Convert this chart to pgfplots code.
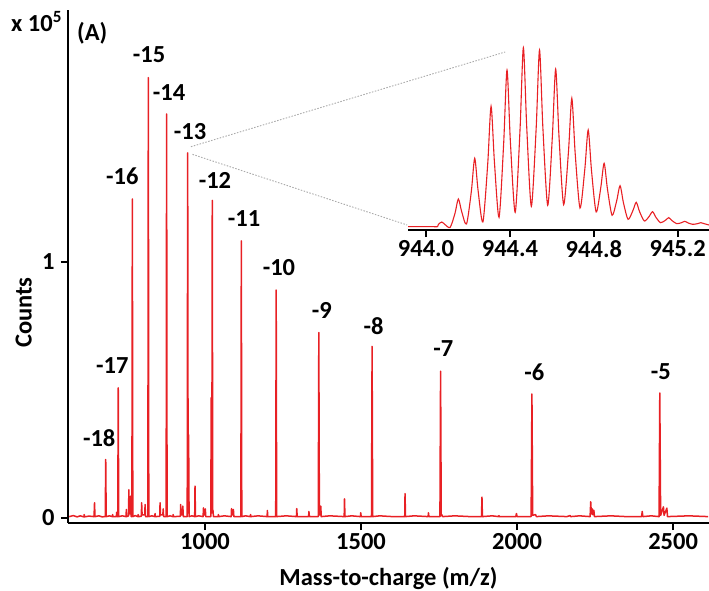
\documentclass[border=0pt]{standalone}
\usepackage{fontspec}
\setmainfont{Carlito}
\usepackage{pgfplots}
\pgfplotsset{compat=1.18}
\definecolor{specred}{RGB}{232,32,36}
\definecolor{zoomgray}{RGB}{170,170,170}

\begin{document}
\begin{tikzpicture}[font=\fontsize{24.5}{27}\selectfont\bfseries]
% main spectrum
\begin{axis}[
    name=main, at={(0,0)}, anchor=south west,
    scale only axis, width=641pt, height=513pt,
    xmin=561, xmax=2615, ymin=-0.02, ymax=1.984,
    axis x line=bottom, axis y line=left,
    axis line style={line width=1.7pt, -},
    xtick={1000,1500,2000,2500}, xticklabels={1000,1500,2000,2500},
    ytick={0,1}, yticklabels={0,1},
    tick align=outside, major tick length=7pt,
    tick style={line width=1.5pt, black},
    tick label style={font=\fontsize{24.5}{27}\selectfont\bfseries},
    yticklabel style={xshift=-3pt},
    xlabel={Mass-to-charge (m/z)},
    xlabel style={at={(axis description cs:0.5,0)}, anchor=base, yshift=-62pt},
    ylabel={Counts},
    ylabel style={at={(axis description cs:-0.069,0.41)}, anchor=center, rotate=0},
    label style={font=\fontsize{24.5}{27}\selectfont\bfseries},
    clip=false,
]
\addplot[specred, line width=1.5pt, line join=round] coordinates {
(565,0.005) (578,0.009) (590,0.004) (600,0.008) (612,0.004) (613,0.013) (614,0.004) (628,0.007)
(644.5,0.005) (646,0.059) (647.5,0.005) (660,0.008) (670,0.004)
(680.4,0.005) (681.9,0.228) (683.4,0.005) (694,0.008)
(703,0.005) (704,0.013) (705,0.005) (716,0.005) (717,0.022) (718,0.005)
(720.5,0.005) (722.0,0.508) (723.5,0.005) (735,0.008)
(747,0.005) (748,0.033) (749,0.005) (755,0.008) (756,0.11) (757.5,0.02) (761,0.015) (762,0.085) (763.5,0.005)
(765.7,0.005) (767.2,1.246) (768.7,0.005) (776,0.009)
(785,0.005) (786,0.013) (787,0.005) (796,0.006) (797,0.059) (798.5,0.012) (807,0.012) (808,0.052) (809.5,0.005)
(816.9,0.005) (818.4,1.72) (819.9,0.005) (830,0.008)
(839,0.005) (840,0.017) (841,0.005) (855,0.006) (856,0.059) (857.5,0.012) (865,0.012) (866,0.035) (867.5,0.005)
(875.5,0.005) (877.0,1.578) (878.5,0.005) (888,0.008)
(897,0.005) (898,0.013) (899,0.005) (921,0.006) (922,0.052) (923.5,0.012) (928,0.012) (929,0.046) (930.5,0.005)
(943,0.005) (944.5,1.426) (946,0.02) (947.5,0.325) (949,0.005) (958,0.008)
(967,0.005) (968,0.124) (969.5,0.005) (980,0.008)
(994,0.005) (995,0.039) (996.5,0.012) (1000,0.012) (1001,0.035) (1002.5,0.005)
(1018.5,0.005) (1020,0.47) (1021.8,0.02) (1023.3,1.24) (1024.8,0.02) (1025.5,0.03) (1027,0.005)
(1042,0.005) (1043,0.013) (1044,0.005) (1062,0.008)
(1084,0.005) (1085,0.036) (1086.5,0.012) (1090,0.012) (1091,0.033) (1092.5,0.005)
(1114.9,0.005) (1116.4,1.082) (1117.9,0.005) (1130,0.008)
(1145,0.005) (1146,0.013) (1147,0.005) (1170,0.008)
(1199,0.005) (1200,0.029) (1201,0.005)
(1226.6,0.005) (1228.1,0.89) (1229.6,0.005) (1260,0.008)
(1293,0.005) (1294,0.036) (1295.5,0.005) (1332,0.005) (1333,0.025) (1334.5,0.005)
(1363,0.005) (1364.7,0.724) (1366.5,0.012) (1370,0.012) (1371,0.046) (1372.5,0.005) (1400,0.008)
(1446,0.005) (1447,0.074) (1448.5,0.005) (1470,0.008)
(1498,0.005) (1499,0.02) (1500.5,0.005)
(1533.5,0.005) (1535.4,0.670) (1537.4,0.005) (1560,0.008) (1600,0.005)
(1640,0.005) (1641,0.095) (1642.5,0.005) (1670,0.008)
(1715,0.005) (1716,0.02) (1717.5,0.005)
(1752.8,0.005) (1754.9,0.573) (1757,0.008) (1759,0.012) (1762,0.005) (1800,0.008) (1850,0.005)
(1886,0.005) (1887.5,0.081) (1889,0.005) (1920,0.008)
(1941,0.005) (1942,0.009) (1943,0.005)
(1996,0.005) (1998,0.017) (2000,0.005)
(2045,0.005) (2047.6,0.484) (2050,0.01) (2059,0.013) (2062,0.005) (2100,0.008)
(2160,0.005) (2170,0.009) (2172,0.005) (2200,0.008)
(2234,0.005) (2236,0.063) (2238,0.015) (2241,0.035) (2243,0.012) (2246,0.03) (2248,0.005) (2300,0.008) (2350,0.005)
(2399,0.005) (2401,0.025) (2403,0.005) (2430,0.008)
(2455,0.005) (2457.3,0.488) (2460,0.01) (2469,0.043) (2471,0.01) (2480,0.038) (2482,0.005) (2550,0.008) (2612,0.005)
};
% charge state labels
\node at (axis cs:661,0.3125) {-18};
\node at (axis cs:703,0.594) {-17};
\node at (axis cs:735,1.336) {-16};
\node at (axis cs:821,1.809) {-15};
\node at (axis cs:885,1.66) {-14};
\node at (axis cs:952,1.508) {-13};
\node at (axis cs:1032,1.32) {-12};
\node at (axis cs:1125,1.168) {-11};
\node at (axis cs:1237,0.977) {-10};
\node at (axis cs:1374,0.809) {-9};
\node at (axis cs:1540,0.75) {-8};
\node at (axis cs:1764,0.66) {-7};
\node at (axis cs:2055,0.57) {-6};
\node at (axis cs:2461,0.57) {-5};
\node at (axis description cs:-0.049,0.977) {x 10\textsuperscript{5}};
\node[anchor=west, inner sep=0pt] at (axis description cs:0.014,0.955) {(A)};
\coordinate (z1) at (axis cs:955,1.45);
\coordinate (z2) at (axis cs:960,1.42);
\end{axis}

% zoomed isotope envelope of the -13 ion
\begin{axis}[
    name=inset, at={(340pt,293pt)}, anchor=south west,
    scale only axis, width=301pt, height=185pt,
    xmin=943.914, xmax=945.349, ymin=-8, ymax=547,
    axis x line=bottom, axis y line=none,
    axis line style={line width=1.7pt, -},
    xtick={944.0,944.4,944.8,945.2}, xticklabels={944.0,944.4,944.8,945.2},
    ytick=\empty,
    tick align=outside, major tick length=7pt,
    tick style={line width=1.5pt, black},
    tick label style={font=\fontsize{24.5}{27}\selectfont\bfseries},
]
\addplot[specred, line width=1.1pt, smooth, tension=0.45] coordinates {
(943.914,2) (944.03,2) (944.055,2)
(944.059,9) (944.075,16) (944.091,8)
(944.115,0) (944.138,42) (944.154,85) (944.170,47)
(944.193,10) (944.216,108) (944.232,207) (944.248,111)
(944.271,16) (944.294,190) (944.310,363) (944.326,196)
(944.348,30) (944.370,251) (944.386,472) (944.402,258)
(944.425,45) (944.448,292) (944.464,539) (944.480,301)
(944.502,63) (944.525,297) (944.541,532) (944.557,299)
(944.580,66) (944.602,270) (944.618,475) (944.634,271)
(944.656,68) (944.679,227) (944.695,387) (944.711,222)
(944.734,58) (944.757,175) (944.773,292) (944.789,169)
(944.811,46) (944.833,119) (944.849,192) (944.865,114)
(944.887,36) (944.909,80) (944.925,125) (944.941,74)
(944.963,24) (944.986,50) (945.002,75) (945.018,47)
(945.041,19) (945.064,33) (945.080,47) (945.096,30)
(945.118,14) (945.141,21) (945.157,29) (945.173,20)
(945.195,11) (945.218,14) (945.234,18) (945.250,13)
(945.272,9) (945.294,11) (945.310,14) (945.326,11)
(945.349,7)
};
\coordinate (i1) at (axis cs:944.377,526);
\coordinate (i2) at (axis cs:943.91,7);
\end{axis}

\draw[zoomgray, line width=0.9pt, dash pattern=on 1.5pt off 1.5pt] (z1) -- (i1);
\draw[zoomgray, line width=0.9pt, dash pattern=on 1.5pt off 1.5pt] (z2) -- (i2);

\pgfresetboundingbox
\path[use as bounding box] (-68pt,-67pt) rectangle (641pt,523pt);
\end{tikzpicture}
\end{document}
